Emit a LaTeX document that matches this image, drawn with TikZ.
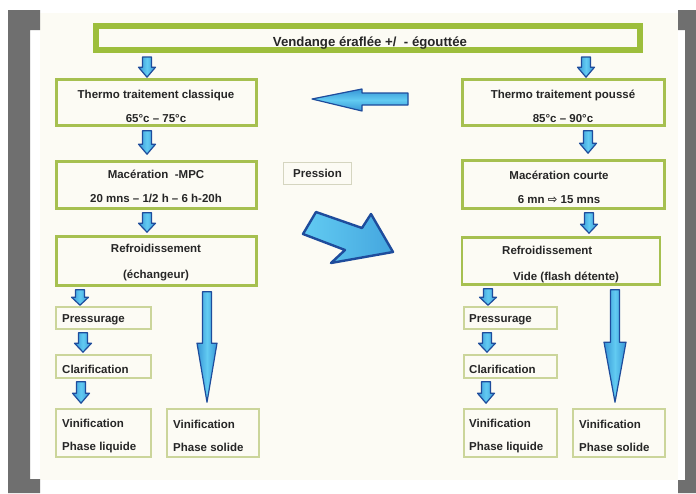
\documentclass[tikz,border=0pt]{standalone}
\usepackage{fontspec}
\setmainfont{Liberation Sans}
\newfontfamily\symf{DejaVu Sans}
\usetikzlibrary{calc}
\definecolor{framegray}{HTML}{6F6F6F}
\definecolor{cream}{HTML}{FCFBF4}
\definecolor{topg}{HTML}{9DBE3C}
\definecolor{boxg}{HTML}{A6C050}
\definecolor{thing}{HTML}{CBD59A}
\definecolor{presg}{HTML}{D5D5C0}
\definecolor{txt}{HTML}{262626}
\definecolor{arrdk}{HTML}{1E4C9C}
\definecolor{arrmid}{HTML}{3796D6}
\definecolor{arrlt}{HTML}{62CBF2}
\newcommand\blkv[5]{\path[barr] let \p1=(#1), \p2=(#2) in
  (\x1-#3pt,\y1) -- (\x1+#3pt,\y1) -- (\x1+#3pt,\y2+#5pt) -- (\x1+#4pt,\y2+#5pt)
  -- (\x1,\y2) -- (\x1-#4pt,\y2+#5pt) -- (\x1-#3pt,\y2+#5pt) -- cycle;}
\begin{document}
\begin{tikzpicture}[x=1pt,y=-1pt,
  box/.style={draw=boxg,line width=2.6pt,inner sep=0pt},
  thinbox/.style={draw=thing,line width=1.6pt,inner sep=0pt},
  lbl/.style={font=\bfseries\fontsize{11.5}{24}\selectfont,text=txt,inner sep=0pt,align=center},
  lbll/.style={lbl,align=left,anchor=west},
  barr/.style={draw=arrdk,line width=1.2pt,line join=round,left color=arrmid,right color=arrmid,middle color=arrlt},
  barrh/.style={draw=arrdk,line width=1.2pt,line join=round,top color=arrmid,bottom color=arrmid,middle color=arrlt},
]
\useasboundingbox (0,0) rectangle (696,493);
\fill[white] (0,0) rectangle (696,493);
\fill[cream] (40,13) rectangle (678,480);
\fill[framegray] (8,10) -- (40,10) -- (40,30) -- (30,30) -- (30,479) -- (40,479) -- (40,493) -- (8,493) -- cycle;
\fill[framegray] (678,10) -- (696,10) -- (696,493) -- (678,493) -- (678,480) -- (685,480) -- (685,30) -- (678,30) -- cycle;

% columns for connectors
\coordinate (cL) at (147,0);
\coordinate (cR0) at (586,0);
\coordinate (cR1) at (588,0);
\coordinate (cR2) at (589,0);
\coordinate (dL3) at (80,0);
\coordinate (dL4) at (83,0);
\coordinate (dL5) at (81,0);
\coordinate (dR3) at (488,0);
\coordinate (dR4) at (487,0);
\coordinate (dR5) at (486,0);
\coordinate (gL) at (207,0);
\coordinate (gR) at (615,0);

% top box
\node[draw=topg,line width=6pt,minimum width=544pt,minimum height=24pt,inner sep=0pt] (top) at (368,38) {};
\node[lbl,font=\bfseries\fontsize{13.2}{14}\selectfont] (toptxt) at (370,43) {Vendange éraflée +/ \ - égouttée};

% left column
\node[box,minimum width=200pt,minimum height=46pt] (l1) at (156.5,102.5) {};
\node[lbl] (l1t) at (156,106) {Thermo traitement classique\\65°c – 75°c};
\node[box,minimum width=200pt,minimum height=47pt] (l2) at (156.5,185) {};
\node[lbl] (l2t) at (156,186) {Macération \ -MPC\\20 mns – 1/2 h – 6 h-20h};
\node[box,minimum width=200pt,minimum height=49pt] (l3) at (156.5,261) {};
\node[lbl,font=\bfseries\fontsize{11.5}{26}\selectfont] (l3t) at (156,263) {Refroidissement\\(échangeur)};

% right column
\node[box,minimum width=202pt,minimum height=46pt] (r1) at (563.5,102.5) {};
\node[lbl] (r1t) at (563,106) {Thermo traitement poussé\\85°c – 90°c};
\node[box,minimum width=202pt,minimum height=48pt] (r2) at (563.5,184.5) {};
\node[lbl] (r2t) at (559,187) {Macération courte\\6 mn {\symf ⇨} 15 mns};
\node[box,minimum width=198pt,minimum height=47pt] (r3) at (561,261) {};
\node[lbll,font=\bfseries\fontsize{11.5}{26}\selectfont] (r3t) at (502,265) {Refroidissement\\\hspace*{11pt}Vide (flash détente)};

% pression
\node[draw=presg,line width=1.2pt,minimum width=68pt,minimum height=22pt,inner sep=0pt,lbl] (pres) at (317.5,173.5) {Pression};

% lower left
\node[thinbox,minimum width=95pt,minimum height=22pt] (lp) at (103.5,318) {};
\node[lbll] (lpt) at (62,320) {Pressurage};
\node[thinbox,minimum width=95pt,minimum height=23pt] (lc) at (103.5,366.5) {};
\node[lbll] (lct) at (62,369) {Clarification};
\node[thinbox,minimum width=95pt,minimum height=48pt] (lv) at (103.5,433) {};
\node[lbll,font=\bfseries\fontsize{11.5}{23}\selectfont] (lvt) at (62,436) {Vinification\\Phase liquide};
\node[thinbox,minimum width=92pt,minimum height=48pt] (ls) at (213,433) {};
\node[lbll,font=\bfseries\fontsize{11.5}{23}\selectfont] (lst) at (173,436) {Vinification\\Phase solide};

% lower right
\node[thinbox,minimum width=93pt,minimum height=22pt] (rp) at (510.5,318) {};
\node[lbll] (rpt) at (469,320) {Pressurage};
\node[thinbox,minimum width=93pt,minimum height=23pt] (rc) at (510.5,366.5) {};
\node[lbll] (rct) at (469,369) {Clarification};
\node[thinbox,minimum width=93pt,minimum height=48pt] (rv) at (510.5,433) {};
\node[lbll,font=\bfseries\fontsize{11.5}{23}\selectfont] (rvt) at (469,436) {Vinification\\Phase liquide};
\node[thinbox,minimum width=92pt,minimum height=48pt] (rs) at (619,433) {};
\node[lbll,font=\bfseries\fontsize{11.5}{23}\selectfont] (rst) at (579,436) {Vinification\\Phase solide};

% small block arrows
\blkv{$(top.south -| cL)+(0,4)$}{$(l1.north -| cL)+(0,-1)$}{4.5}{8.5}{10}
\blkv{$(top.south -| cR0)+(0,4)$}{$(r1.north -| cR0)+(0,-1)$}{4.5}{8.5}{10}
\blkv{$(l1.south -| cL)+(0,4)$}{$(l2.north -| cL)+(0,-6)$}{4.5}{8.5}{10}
\blkv{$(r1.south -| cR1)+(0,4)$}{$(r2.north -| cR1)+(0,-6)$}{4.5}{8.5}{10}
\blkv{$(l2.south -| cL)+(0,3)$}{$(l3.north -| cL)+(0,-3)$}{4.5}{8.5}{9}
\blkv{$(r2.south -| cR2)+(0,3)$}{$(r3.north -| cR2)+(0,-3)$}{4.5}{8.5}{9}
\blkv{$(l3.south -| dL3)+(0,3)$}{$(lp.north -| dL3)+(0,-1)$}{4.5}{8.5}{8}
\blkv{$(lp.south -| dL4)+(0,3)$}{$(lc.north -| dL4)+(0,-2)$}{4.5}{8.5}{9}
\blkv{$(lc.south -| dL5)+(0,3)$}{$(lv.north -| dL5)+(0,-5)$}{4.5}{8.5}{10}
\blkv{$(r3.south -| dR3)+(0,3)$}{$(rp.north -| dR3)+(0,-1)$}{4.5}{8.5}{8}
\blkv{$(rp.south -| dR4)+(0,3)$}{$(rc.north -| dR4)+(0,-2)$}{4.5}{8.5}{9}
\blkv{$(rc.south -| dR5)+(0,3)$}{$(rv.north -| dR5)+(0,-5)$}{4.5}{8.5}{10}
% long arrows
\blkv{$(l3.south -| gL)+(0,5)$}{$(ls.north -| gL)+(0,-6)$}{4.5}{10}{59}
\blkv{$(r3.south -| gR)+(0,4)$}{$(rs.north -| gR)+(0,-6)$}{4.5}{11}{60}

% horizontal big arrow (right to left)
\path[barrh] (408,93) -- (362,93) -- (362,89) -- (312,99) -- (362,111) -- (362,105) -- (408,105) -- cycle;
% diagonal big arrow
\path[draw=arrdk,line width=2.4pt,line join=round,left color=arrlt,right color=arrmid!70!arrlt]
  (316,212) -- (362,228) -- (371,214) -- (393,252) -- (331,263) -- (345,250) -- (303,234) -- cycle;
\end{tikzpicture}
\end{document}
